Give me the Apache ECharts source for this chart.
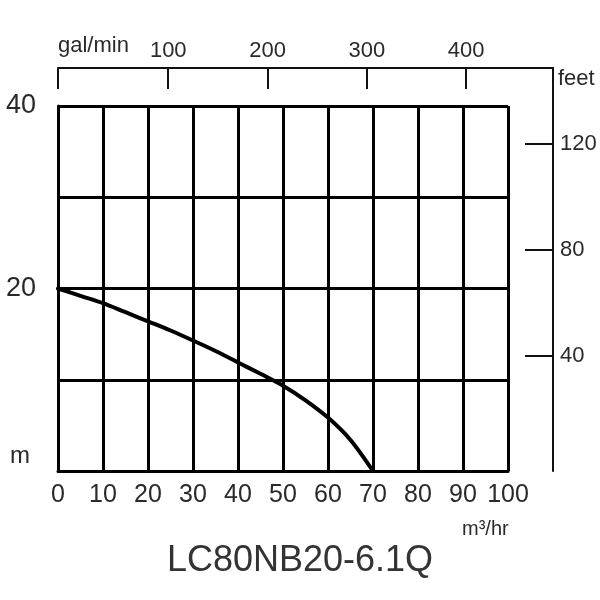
<!DOCTYPE html>
<html>
<head>
<meta charset="utf-8">
<script src="https://cdn.jsdelivr.net/npm/echarts@6/dist/echarts.min.js"></script>
<style>html,body{margin:0;padding:0;background:#fff}#c{width:600px;height:600px}</style>
</head>
<body>
<div id="c"></div>
<script>
// Flow (m³/hr) vs head (m) curve
var flow = [0, 5, 10, 15, 20, 25, 30, 35, 40, 45, 50, 55, 60, 65, 70];
var head = [20, 19.2, 18.4, 17.4, 16.4, 15.4, 14.3, 13.15, 11.9, 10.65, 9.35, 7.75, 5.85, 3.4, 0];
var flowTicks = [0, 10, 20, 30, 40, 50, 60, 70, 80, 90, 100];
var headLabels = [20, 40];
var galTicks = [100, 200, 300, 400];
var feetTicks = [40, 80, 120];
var title = 'LC80NB20-6.1Q';

var pts = flow.map(function (f, i) { return [f, head[i]]; });
var font = 'Liberation Sans, Arial, sans-serif';
var txt = '#2a2a2a';

var chart = echarts.init(document.getElementById('c'));
chart.setOption({
  animation: false,
  backgroundColor: '#fff',
  title: {
    text: title, left: 'center', top: 538,
    textStyle: { fontFamily: font, fontSize: 36, fontWeight: 'normal', color: '#333' }
  },
  grid: [
    { left: 58, right: 92, top: 106, bottom: 129 },
    { left: 58, right: 47, top: 68, bottom: 129 }
  ],
  xAxis: [
    {
      gridIndex: 0, type: 'value', min: 0, max: 100, interval: 10, position: 'bottom',
      axisLine: { show: true, lineStyle: { color: '#000', width: 3 } },
      axisTick: { show: false },
      splitLine: { show: true, lineStyle: { color: '#000', width: 3 } },
      axisLabel: { color: txt, fontFamily: font, fontSize: 25, margin: 12, customValues: flowTicks }
    },
    {
      gridIndex: 1, type: 'value', min: -11, max: 487.4, position: 'top',
      axisLine: { show: true, onZero: false, lineStyle: { color: '#111', width: 2 } },
      axisTick: { show: true, inside: true, length: 21, lineStyle: { color: '#111', width: 2 },
                  customValues: [-11].concat(galTicks) },
      splitLine: { show: false },
      axisLabel: { color: txt, fontFamily: font, fontSize: 22, margin: 6, customValues: galTicks }
    }
  ],
  yAxis: [
    {
      gridIndex: 0, type: 'value', min: 0, max: 40, interval: 10,
      axisLine: { show: true, lineStyle: { color: '#000', width: 3 } },
      axisTick: { show: false },
      splitLine: { show: true, lineStyle: { color: '#000', width: 3 } },
      axisLabel: { color: txt, fontFamily: font, fontSize: 27, margin: 22, customValues: headLabels }
    },
    {
      gridIndex: 1, type: 'value', min: -3.4, max: 148.7, position: 'right',
      axisLine: { show: true, onZero: false, lineStyle: { color: '#111', width: 2 } },
      axisTick: { show: true, inside: true, length: 28, lineStyle: { color: '#111', width: 2 },
                  customValues: feetTicks },
      splitLine: { show: false },
      axisLabel: { color: txt, fontFamily: font, fontSize: 22, margin: 7, customValues: feetTicks }
    }
  ],
  graphic: [
    { type: 'text', left: 58, top: 35, style: { text: 'gal/min', font: '22px ' + font, fill: txt } },
    { type: 'text', left: 558, top: 68, style: { text: 'feet', font: '22px ' + font, fill: txt } },
    { type: 'text', left: 10, top: 444, style: { text: 'm', font: '24px ' + font, fill: txt } },
    { type: 'text', left: 462, top: 519, style: { text: 'm³/hr', font: '20px ' + font, fill: txt } }
  ],
  series: [
    {
      type: 'line', xAxisIndex: 0, yAxisIndex: 0, data: pts,
      smooth: 0.3, symbol: 'none',
      lineStyle: { color: '#000', width: 4, cap: 'round', join: 'round' }
    }
  ]
});
</script>
</body>
</html>
